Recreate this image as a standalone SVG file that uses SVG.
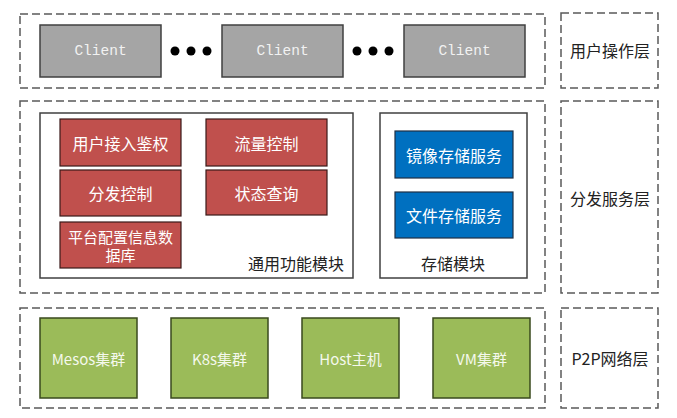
<svg xmlns="http://www.w3.org/2000/svg" width="677" height="418" viewBox="0 0 677 418">
<style>
.layer{fill:none;stroke:#595959;stroke-width:1.5;stroke-dasharray:8 4}
.mod{fill:#fff;stroke:#404040;stroke-width:1.5}
.client{fill:#a5a5a5;stroke:#404040;stroke-width:1.5}
.red{fill:#c0504d;stroke:#3a1a19;stroke-width:1.2}
.blue{fill:#0070c0;stroke:#1f2f45;stroke-width:1.2}
.green{fill:#9bbb59;stroke:#3a4a1e;stroke-width:1.5}
.ct{font-family:"Liberation Mono",monospace;font-size:14.5px;fill:#f2f2f2;text-anchor:middle;dominant-baseline:central}
.wt{font-family:"Noto Sans CJK SC","Noto Sans",sans-serif;font-size:16px;fill:#fff;text-anchor:middle;dominant-baseline:central}
.st{font-size:15px}
.gt{font-family:"Noto Sans CJK SC","Noto Sans",sans-serif;font-size:15px;fill:#f4f8ec;text-anchor:middle;dominant-baseline:central}
.bt{font-family:"Noto Sans CJK SC","Noto Sans",sans-serif;font-size:16px;fill:#222;text-anchor:middle;dominant-baseline:central}
.dot{fill:#000}
</style>
<g id="layers">
<rect id="layer-user" class="layer" x="20" y="14" width="525" height="74"/>
<rect id="layer-dist" class="layer" x="20" y="101" width="525" height="192"/>
<rect id="layer-p2p" class="layer" x="20" y="308" width="525" height="100"/>
</g>
<g id="label-user"><rect class="layer" x="561" y="13" width="97" height="75"/><text class="bt" x="610" y="50">用户操作层</text></g>
<g id="label-dist"><rect class="layer" x="561" y="101" width="97" height="192"/><text class="bt" x="610" y="198">分发服务层</text></g>
<g id="label-p2p"><rect class="layer" x="561" y="308" width="97" height="100"/><text class="bt" x="610" y="358">P2P网络层</text></g>
<g id="client1"><rect class="client" x="40" y="25" width="121" height="52"/><text class="ct" x="100.5" y="51">Client</text></g>
<g id="client2"><rect class="client" x="222" y="25" width="121" height="52"/><text class="ct" x="282.5" y="51">Client</text></g>
<g id="client3"><rect class="client" x="404" y="25" width="121" height="52"/><text class="ct" x="464.5" y="51">Client</text></g>
<g id="dots1"><circle class="dot" cx="175" cy="51" r="4.5"/><circle class="dot" cx="191" cy="51" r="4.5"/><circle class="dot" cx="207" cy="51" r="4.5"/></g>
<g id="dots2"><circle class="dot" cx="357" cy="51" r="4.5"/><circle class="dot" cx="373" cy="51" r="4.5"/><circle class="dot" cx="389" cy="51" r="4.5"/></g>
<g id="general-module"><rect class="mod" x="40" y="113" width="313" height="165"/><text class="bt" x="296" y="263">通用功能模块</text></g>
<g id="storage-module"><rect class="mod" x="380" y="113" width="147" height="165"/><text class="bt" x="453" y="263">存储模块</text></g>
<g id="auth"><rect class="red" x="60" y="119" width="121" height="47"/><text class="wt" x="120.5" y="142.5">用户接入鉴权</text></g>
<g id="flow"><rect class="red" x="206" y="119" width="121" height="47"/><text class="wt" x="266.5" y="142.5">流量控制</text></g>
<g id="dist-ctrl"><rect class="red" x="60" y="170" width="121" height="46"/><text class="wt" x="120.5" y="193">分发控制</text></g>
<g id="status"><rect class="red" x="206" y="170" width="121" height="45"/><text class="wt" x="266.5" y="192.5">状态查询</text></g>
<g id="config-db"><rect class="red" x="60" y="222" width="121" height="46"/><text class="wt st" x="120.5" y="236"><tspan x="120.5" y="236">平台配置信息数</tspan><tspan x="120.5" y="254">据库</tspan></text></g>
<g id="image-store"><rect class="blue" x="395" y="131" width="118" height="47"/><text class="wt" x="454" y="154.5">镜像存储服务</text></g>
<g id="file-store"><rect class="blue" x="395" y="192" width="118" height="46"/><text class="wt" x="454" y="215">文件存储服务</text></g>
<g id="mesos"><rect class="green" x="40" y="318" width="97" height="80"/><text class="gt" x="88.5" y="358">Mesos集群</text></g>
<g id="k8s"><rect class="green" x="171" y="318" width="97" height="80"/><text class="gt" x="219.5" y="358">K8s集群</text></g>
<g id="host"><rect class="green" x="302" y="318" width="97" height="80"/><text class="gt" x="350.5" y="358">Host主机</text></g>
<g id="vm"><rect class="green" x="433" y="318" width="97" height="80"/><text class="gt" x="481.5" y="358">VM集群</text></g>
<g id="connectors"></g>
</svg>
